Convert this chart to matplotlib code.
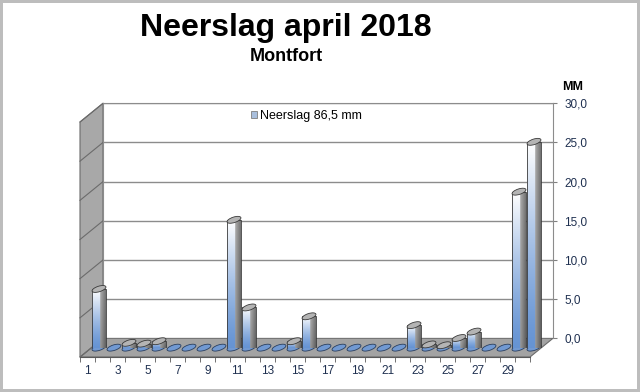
import numpy as np
import matplotlib
matplotlib.use("Agg")
import matplotlib.pyplot as plt
from matplotlib.patches import Ellipse, Polygon, Patch
from matplotlib.transforms import ScaledTranslation

plt.rcParams['font.family'] = ['Liberation Sans', 'DejaVu Sans']

# ---------------------------------------------------------------------------
# data: daily rainfall Montfort, April 2018 (mm)
# ---------------------------------------------------------------------------
days = list(range(1, 31))
rain = [7.3, 0.0, 0.6, 0.5, 0.8, 0.0, 0.0, 0.0, 0.0, 15.9,
        5.0, 0.0, 0.0, 0.8, 3.9, 0.0, 0.0, 0.0, 0.0, 0.0,
        0.0, 2.8, 0.4, 0.3, 1.2, 2.0, 0.0, 0.0, 19.4, 25.6]
x_labels = [str(d) if d % 2 else '' for d in days]
y_ticks = [0, 5, 10, 15, 20, 25, 30]
title = 'Neerslag april 2018'
subtitle = 'Montfort'
unit = 'MM'

# ---------------------------------------------------------------------------
# pseudo-3D geometry (pixels, y from top)
# ---------------------------------------------------------------------------
W, H = 640, 392
FX0, FX1, FY = 80, 530, 357          # front edge of floor
DX, DY = 23, 18.7                    # depth offset to back wall
WALL_TOP = 103.3                     # 30 mm on back wall
BAR_SCALE = 8.04                     # px per mm in bar plane


def fr(x0, y_top, w, h):
    return [x0 / W, 1 - (y_top + h) / H, w / W, h / H]


fig = plt.figure(figsize=(W / 100, H / 100), dpi=100)
fig.patch.set_edgecolor('#bdbdbd')
fig.patch.set_linewidth(2.9)

# canvas for floor / side wall
cv = fig.add_axes([0, 0, 1, 1], zorder=0)
cv.set_xlim(0, W); cv.set_ylim(H, 0); cv.axis('off')
bx0, by0 = FX0 + DX, FY - DY
cv.add_patch(Polygon([(FX0, FY), (FX1, FY), (FX1 + DX, by0), (bx0, by0)],
                     fc='#a3a3a3', ec='#6b6b6b', lw=0.8))
cv.add_patch(Polygon([(FX0, FY), (bx0, by0), (bx0, WALL_TOP), (FX0, WALL_TOP + DY)],
                     fc='#a8a8a8', ec='#6b6b6b', lw=0.8))
for g in y_ticks:
    yg = by0 - g * (by0 - WALL_TOP) / 30
    cv.plot([bx0, FX0], [yg, yg + DY], color='#6b6b6b', lw=0.8)

# back wall with grid and right axis
axb = fig.add_axes(fr(bx0, WALL_TOP, FX1 - FX0, by0 - WALL_TOP), zorder=1)
axb.set_facecolor('white')
axb.set_xlim(0.5, 30.5); axb.set_ylim(0, 30)
axb.set_xticks([])
axb.yaxis.tick_right()
axb.set_yticks(y_ticks)
axb.set_yticklabels([f"{v:.1f}".replace('.', ',') for v in y_ticks])
axb.tick_params(axis='y', length=3, color='#808080', labelsize=8.5,
                labelcolor='#1f3050', pad=5)
axb.grid(axis='y', color='#8c8c8c', lw=1)
for s in ['left', 'top', 'right']:
    axb.spines[s].set_color('#8c8c8c')
axb.spines['bottom'].set_visible(False)

# bar plane
ax = fig.add_axes(fr(FX0 + DX / 2, FY - DY / 2 - 30 * BAR_SCALE,
                     FX1 - FX0, 30 * BAR_SCALE), zorder=2)
ax.patch.set_alpha(0)
ax.axis('off')

ny, nx = 80, 24
tt = np.linspace(1, 0, ny)
uu = np.linspace(0, 1, nx)
white = np.array([1.0, 1.0, 1.0])
blue = np.array([0.40, 0.58, 0.83])
wt = tt ** 1.3
left = (1 - wt)[:, None] * blue + wt[:, None] * white
grad = np.empty((ny, nx, 3))
for j, u in enumerate(uu):
    if u < 0.6:
        grad[:, j] = left
    else:
        g = 0.60 - 0.22 * (u - 0.6) / 0.4 + 0.08 * tt
        grad[:, j] = np.stack([g, g, g], axis=1)

bw = 0.88
ew, eh = 0.145, 0.055
bars = ax.bar(days, rain, width=bw, fc='none', ec='#3a3a3a', lw=0.6, zorder=4)
for d, v, rect in zip(days, rain, bars):
    base = Ellipse((0, 0), ew, eh, angle=18, fc='#7199d2', ec='#2a3f5f', lw=0.6,
                   transform=fig.dpi_scale_trans + ScaledTranslation(d, 0, ax.transData),
                   zorder=2, clip_on=False)
    ax.add_patch(base)
    if v > 0:
        im = ax.imshow(grad, extent=(d - bw / 2, d + bw / 2, 0, v), aspect='auto',
                       origin='upper', zorder=3)
        im.set_clip_path(rect)
        top = Ellipse((0, 0), ew, eh, angle=18, fc='#b4b4b4', ec='#3a3a3a', lw=0.6,
                      transform=fig.dpi_scale_trans + ScaledTranslation(d, v, ax.transData),
                      zorder=5, clip_on=False)
        ax.add_patch(top)
    else:
        rect.set_linewidth(0)
ax.set_xlim(0.5, 30.5); ax.set_ylim(0, 30)

total = f"{sum(rain):.1f}".replace('.', ',')
ax.legend(handles=[Patch(fc='#a9bfdd', ec='#7f7f7f', lw=0.6)],
          labels=[f"Neerslag {total} mm"], loc='center left',
          bbox_to_anchor=(251 / W, 1 - 116 / H), bbox_transform=fig.transFigure,
          frameon=False, fontsize=9, handlelength=0.45, handleheight=0.45,
          handletextpad=0.25, borderpad=0, borderaxespad=0)

# front edge with category labels
axf = fig.add_axes(fr(FX0, WALL_TOP + DY, FX1 - FX0, FY - WALL_TOP - DY), zorder=3)
axf.patch.set_alpha(0)
axf.set_xlim(0.5, 30.5); axf.set_ylim(0, 30)
axf.set_yticks([])
axf.set_xticks(days)
axf.set_xticklabels(x_labels)
axf.set_xticks(np.arange(0.5, 31, 1), minor=True)
axf.tick_params(axis='x', which='major', length=0, labelsize=8.5,
                labelcolor='#1f3050', pad=6)
axf.tick_params(axis='x', which='minor', length=3.6, color='#595959')
for s in ['left', 'top', 'right']:
    axf.spines[s].set_visible(False)
axf.spines['bottom'].set_color('#595959')
axf.spines['bottom'].set_linewidth(0.8)

fig.text(286 / W, 1 - 36 / H, title, fontsize=23, weight='bold',
         ha='center', va='baseline')
fig.text(286 / W, 1 - 61 / H, subtitle, fontsize=13, weight='bold',
         ha='center', va='baseline')
fig.text(573 / W, 1 - 90 / H, unit, fontsize=9, weight='bold',
         ha='center', va='baseline')

fig.savefig('out.png', dpi=100)
